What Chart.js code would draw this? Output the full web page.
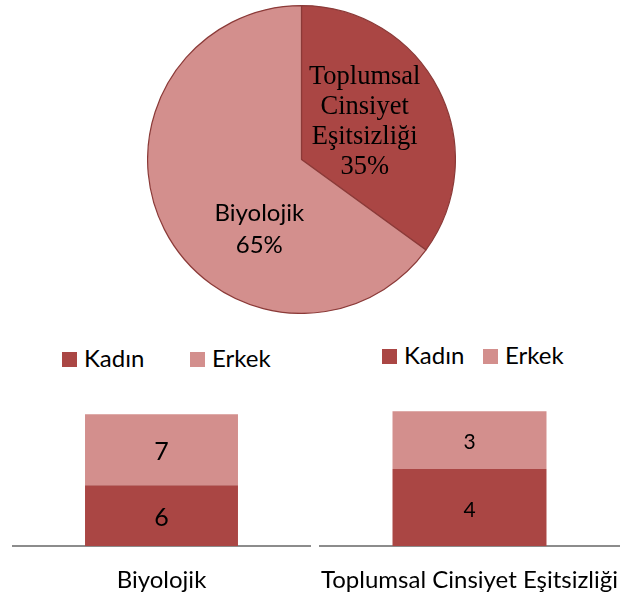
<!DOCTYPE html>
<html>
<head>
<meta charset="utf-8">
<script src="https://cdn.jsdelivr.net/npm/chart.js@4"></script>
<style>
  html, body { margin: 0; padding: 0; background: #fff; }
  body { width: 635px; height: 595px; position: relative; overflow: hidden; font-family: Lato, "Open Sans", sans-serif; }
  canvas { position: absolute; }
  .legend { position: absolute; font-size: 24px; line-height: 24px; color: #000; white-space: nowrap; }
  .legend span.box { display: inline-block; width: 15px; height: 15px; vertical-align: 0px; margin-right: 7px; }
  .legend span.item { position: absolute; top: 0; }
</style>
</head>
<body>
<canvas id="pie" width="309" height="309" style="left:147px; top:5px;"></canvas>
<canvas id="barBio" width="318" height="195" style="left:0px; top:400px;"></canvas>
<canvas id="barTce" width="317" height="207" style="left:318px; top:388px;"></canvas>
<div id="legendBio" class="legend" style="left:62px; top:346px;"></div>
<div id="legendTce" class="legend" style="left:382px; top:343px;"></div>

<script>
// Pie: share of answers
const pieLabels = ['Toplumsal Cinsiyet Eşitsizliği', 'Biyolojik'];
const pieValues = [35, 65];
const pieLabelLines = [['Toplumsal', 'Cinsiyet', 'Eşitsizliği'], ['Biyolojik']];

// Stacked bars
const seriesNames = ['Kadın', 'Erkek'];
const bioCategories = ['Biyolojik'];
const bioKadin = [6];
const bioErkek = [7];
const tceCategories = ['Toplumsal Cinsiyet Eşitsizliği'];
const tceKadin = [4];
const tceErkek = [3];

const darkRed = '#AA4644';
const lightRed = '#D38F8D';
const edgeRed = '#8B3A38';
const sansFont = 'Lato, "Open Sans", sans-serif';

Chart.defaults.animation = false;
Chart.defaults.devicePixelRatio = 1;

// Labels inside the pie slices
const pieLabelPlugin = {
    id: 'pieLabels',
    afterDatasetsDraw(chart, args, opts) {
        const ctx = chart.ctx;
        const meta = chart.getDatasetMeta(0);
        const total = pieValues.reduce((a, b) => a + b, 0);
        meta.data.forEach((arc, i) => {
            const p = arc.getProps(['x', 'y', 'startAngle', 'endAngle', 'outerRadius']);
            const mid = (p.startAngle + p.endAngle) / 2;
            const r = p.outerRadius * 0.49;
            const shift = opts.shifts[i];
            const cx = p.x + Math.cos(mid) * r + shift[0];
            const cy = p.y + Math.sin(mid) * r + shift[1];
            const style = opts.styles[i];
            const lines = pieLabelLines[i].concat([Math.round(pieValues[i] / total * 100) + '%']);
            ctx.save();
            ctx.fillStyle = '#000';
            ctx.font = style.font;
            ctx.textAlign = 'center';
            ctx.textBaseline = 'middle';
            const top = cy - (lines.length - 1) * style.lineHeight / 2;
            lines.forEach((txt, k) => ctx.fillText(txt, cx, top + k * style.lineHeight));
            ctx.restore();
        });
    }
};

new Chart(document.getElementById('pie'), {
    type: 'pie',
    data: {
        labels: pieLabels,
        datasets: [{
            data: pieValues,
            backgroundColor: [darkRed, lightRed],
            borderColor: edgeRed,
            borderWidth: 1.2
        }]
    },
    options: {
        responsive: false,
        layout: { padding: 0 },
        plugins: {
            legend: { display: false },
            tooltip: { enabled: false },
            pieLabels: {
                shifts: [[-4, -3], [25, 36]],
                styles: [
                    { font: '26.5px "Liberation Serif", "Times New Roman", serif', lineHeight: 30 },
                    { font: '24px ' + sansFont, lineHeight: 32 }
                ]
            }
        }
    },
    plugins: [pieLabelPlugin]
});

// Values in the middle of each bar segment, category names under the axis
const barTextPlugin = {
    id: 'barText',
    afterDatasetsDraw(chart, args, opts) {
        const ctx = chart.ctx;
        ctx.save();
        ctx.fillStyle = '#000';
        ctx.textAlign = 'center';
        ctx.textBaseline = 'middle';
        ctx.font = opts.valueFont;
        chart.data.datasets.forEach((ds, di) => {
            chart.getDatasetMeta(di).data.forEach((bar, j) => {
                const p = bar.getProps(['x', 'y', 'base']);
                ctx.fillText(String(ds.data[j]), p.x, (p.y + p.base) / 2 + 2.5);
            });
        });
        const xScale = chart.scales.x;
        ctx.font = opts.labelFont;
        chart.data.labels.forEach((lab, j) => {
            ctx.fillText(lab, xScale.getPixelForTick(j), xScale.bottom + opts.labelGap);
        });
        ctx.restore();
    }
};

function makeBar(id, categories, kadin, erkek, yMax, valueFont, padding) {
    return new Chart(document.getElementById(id), {
        type: 'bar',
        data: {
            labels: categories,
            datasets: [
                { label: seriesNames[0], data: kadin, backgroundColor: darkRed },
                { label: seriesNames[1], data: erkek, backgroundColor: lightRed }
            ]
        },
        options: {
            responsive: false,
            layout: { padding: padding },
            categoryPercentage: 1,
            barPercentage: 0.515,
            scales: {
                x: {
                    stacked: true,
                    grid: { display: false, drawTicks: false },
                    border: { display: true, color: '#8C8C8C', width: 2 },
                    ticks: { display: false }
                },
                y: {
                    stacked: true,
                    display: false,
                    min: 0,
                    max: yMax
                }
            },
            plugins: {
                legend: { display: false },
                tooltip: { enabled: false },
                barText: { valueFont: valueFont, labelFont: '24px ' + sansFont, labelGap: 34 }
            }
        },
        plugins: [barTextPlugin]
    });
}

// chart areas end on the axis at y = 546
makeBar('barBio', bioCategories, bioKadin, bioErkek, 14,
    '25px ' + sansFont, { left: 13, right: 8, top: 4, bottom: 49 });
makeBar('barTce', tceCategories, tceKadin, tceErkek, 8,
    '21px ' + sansFont, { left: 2, right: 16, top: 4, bottom: 49 });

// HTML legends above each bar chart
function buildLegend(id, gap) {
    const el = document.getElementById(id);
    [darkRed, lightRed].forEach((c, i) => {
        const item = document.createElement('span');
        item.className = 'item';
        item.style.left = (i * gap) + 'px';
        item.innerHTML = '<span class="box" style="background:' + c + '"></span>' + seriesNames[i];
        el.appendChild(item);
    });
}
buildLegend('legendBio', 128);
buildLegend('legendTce', 101);
</script>
</body>
</html>
